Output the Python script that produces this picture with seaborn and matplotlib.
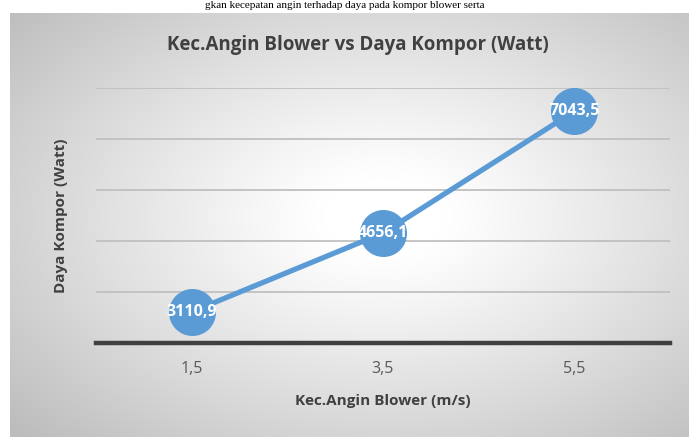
"""
Kec.Angin Blower vs Daya Kompor (Watt) - line chart recreated with seaborn
"""

import numpy as np
import matplotlib.pyplot as plt
import seaborn as sns

# data
kec_angin = ["1,5", "3,5", "5,5"]
daya_kompor = [3110.9, 4656.1, 7043.5]
label_teks = ["3110,9", "4656,1", "7043,5"]
y_ticks = [2500, 3500, 4500, 5500, 6500, 7500]

sns.set_theme(style="white")
plt.rcParams['font.family'] = ['Open Sans', 'DejaVu Sans']

W, H = 689, 437
fig = plt.figure(figsize=(W / 100, H / 100), dpi=100)
fig.patch.set_facecolor('white')

# line of document text above the chart (shrunk to fit the white strip)
fig.text(0.5, 1 - 6 / H, "gkan kecepatan angin terhadap daya pada kompor blower serta",
         ha='center', va='center', fontsize=8, family='Liberation Serif', color='black')

# radial gradient background of the chart frame
bg = fig.add_axes([10 / W, 0, (W - 10) / W, (H - 13) / H], zorder=-1)
gx, gy = np.meshgrid(np.linspace(0, 1, 400), np.linspace(0, 1, 300))
dx = (gx - 0.55) / 0.55
dy = (gy - 0.48) / 0.55
r = np.clip(np.sqrt(dx ** 2 + dy ** 2) / 1.35, 0, 1)
val = 1 - 0.26 * np.clip((r - 0.12) / 0.88, 0, 1) ** 1.1
bg.imshow(np.dstack([val, val, val]), aspect='auto', extent=[0, 1, 0, 1], origin='upper')
bg.set_axis_off()

ax = fig.add_axes([96 / W, 1 - 343 / H, 574 / W, 255 / H])
ax.set_facecolor('none')

blue = '#5B9BD5'
sns.pointplot(x=kec_angin, y=daya_kompor, color=blue, ax=ax,
              markersize=31, linewidth=3.8, errorbar=None, zorder=3)

for i, (v, t) in enumerate(zip(daya_kompor, label_teks)):
    ax.text(i, v, t, ha='center', va='center', color='white',
            fontsize=11.5, fontweight='bold', zorder=5)

ax.set_ylim(2500, 7500)
ax.set_xlim(-0.5, 2.5)
ax.set_yticks(y_ticks)
ax.yaxis.grid(True, color='#c0c0c0', linewidth=1.3)
ax.set_yticklabels([])
ax.tick_params(axis='y', length=0)
ax.tick_params(axis='x', length=0, labelsize=11.5, labelcolor='#595959', pad=13)
for s in ['top', 'right', 'left']:
    ax.spines[s].set_visible(False)
ax.spines['bottom'].set_color('#404040')
ax.spines['bottom'].set_linewidth(3.2)
ax.spines['bottom'].set_zorder(1)

ax.set_xlabel("Kec.Angin Blower (m/s)", fontsize=11, fontweight='bold',
              color='#404040', labelpad=12)
ax.set_ylabel("Daya Kompor (Watt)", fontsize=11, fontweight='bold',
              color='#404040', labelpad=17)

fig.text(358 / W, 1 - 45 / H, "Kec.Angin Blower vs Daya Kompor (Watt)",
         ha='center', va='center', fontsize=13.5, fontweight='bold', color='#404040')

plt.savefig('out.png', dpi=100)
